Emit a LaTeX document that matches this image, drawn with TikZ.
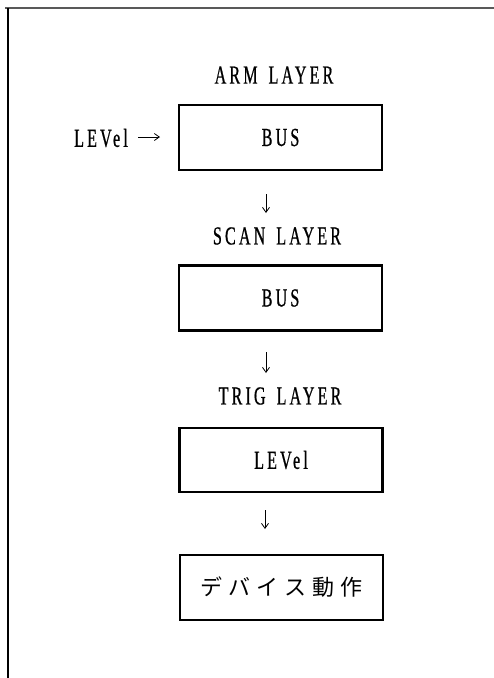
\documentclass[tikz,border=0pt]{standalone}
\usepackage{fontspec}
\usetikzlibrary{arrows.meta}
\newfontfamily\lblfont[FakeStretch=0.62,LetterSpace=12,FakeBold=0.6]{Liberation Serif}
\newfontfamily\cjkfont[LetterSpace=28]{Noto Sans CJK JP}
\newcommand{\wsp}{\kern 11pt\relax}
\begin{document}
\begin{tikzpicture}[x=1pt,y=-1pt,
  lbl/.style={font=\lblfont\fontsize{26}{26}\selectfont, inner sep=0pt},
  layerbox/.style={draw, line width=2.2pt, minimum width=203pt, minimum height=65pt, inner sep=0pt},
  flowarrow/.style={line width=0.8pt, -{Straight Barb[length=5pt,width=7pt]}}]
\useasboundingbox (0,0) rectangle (494,678);
% frame
\draw[line width=2.6pt, black!65] (5,8) -- (494,8);
\draw[line width=1.6pt] (8,8) -- (8,678);
% headings
\node[lbl] (arm) at (274,75) {ARM\wsp LAYER};
\node[lbl] (scan) at (277,236) {SCAN\wsp LAYER};
\node[lbl] (trig) at (280,396) {TRIG\wsp LAYER};
% boxes
\node[layerbox, lbl] (b1) at (280.5,137.5) {BUS};
\node[layerbox, lbl] (b2) at (280.5,298) {BUS};
\node[layerbox, lbl, minimum height=64pt] (b3) at (281,460) {LEVel};
\node[layerbox, font=\cjkfont\fontsize{22}{22}\selectfont] (b4) at (281.5,587.5) {デバイス動作};
% input label
\node[lbl] (lev) at (101,138) {LEVel};
\coordinate (la) at (138,137);
\coordinate (lb) at (160,137);
\draw[flowarrow] (la) -- (lb);
% vertical arrows
\coordinate (a1s) at (266,194);
\coordinate (a1e) at (266,213);
\coordinate (a2s) at (266,352);
\coordinate (a2e) at (266,373);
\coordinate (a3s) at (265,510);
\coordinate (a3e) at (265,529);
\draw[flowarrow] (a1s) -- (a1e);
\draw[flowarrow] (a2s) -- (a2e);
\draw[flowarrow] (a3s) -- (a3e);
\end{tikzpicture}
\end{document}
